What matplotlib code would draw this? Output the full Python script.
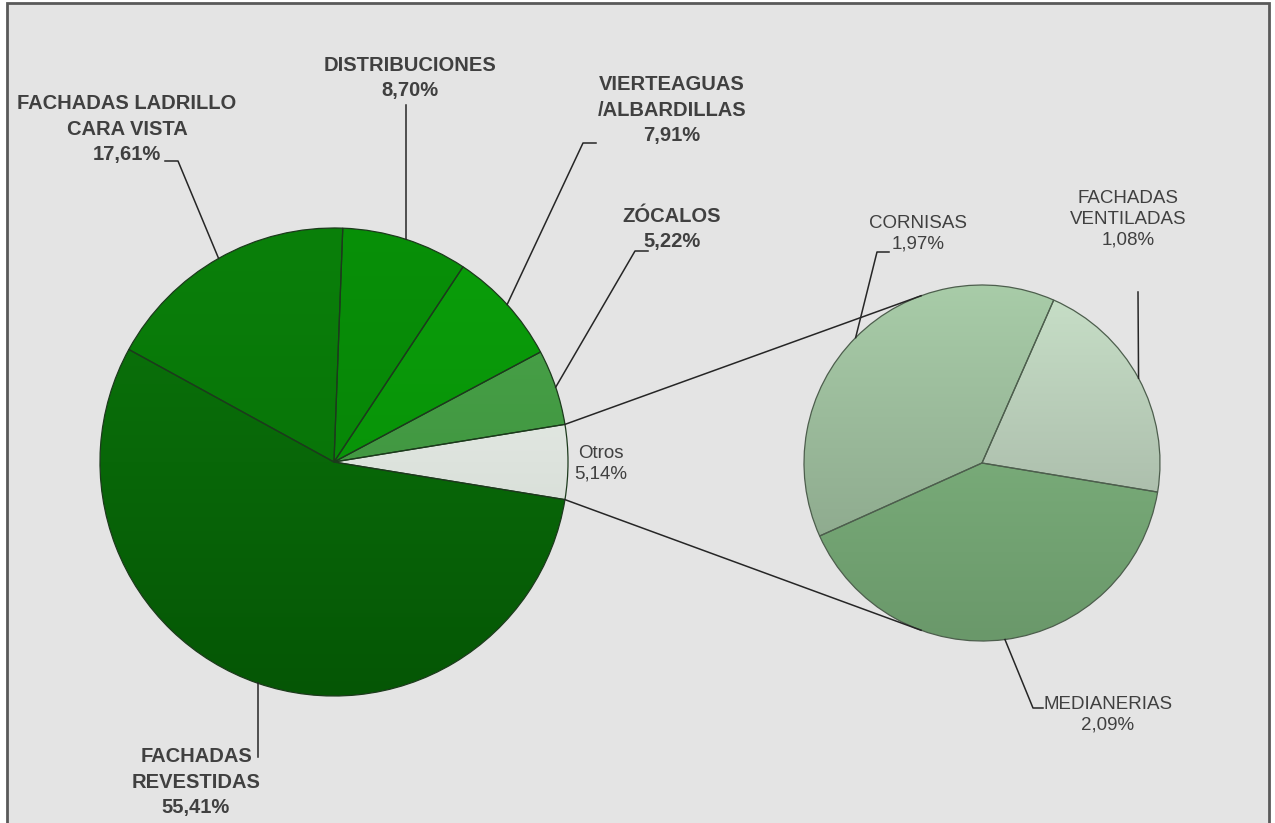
import numpy as np
import matplotlib.pyplot as plt
from matplotlib.colors import to_rgb
from matplotlib.patches import Rectangle

plt.rcParams['font.family'] = ['Liberation Sans Narrow', 'Liberation Sans', 'DejaVu Sans']

W, H = 1275, 823

# main pie, counter-clockwise starting with "Otros" centred on the right
main_labels = ['Otros', 'ZÓCALOS', 'VIERTEAGUAS\n/ALBARDILLAS', 'DISTRIBUCIONES',
               'FACHADAS LADRILLO\nCARA VISTA', 'FACHADAS\nREVESTIDAS']
main_values = [5.14, 5.22, 7.91, 8.70, 17.61, 55.41]
main_bold = [False, True, True, True, True, True]
main_top = ['#f2f6f2', '#4aa64a', '#0a9e0a', '#089008', '#0a800a', '#0b780b']
main_bottom = ['#c8d0c8', '#3a8a3a', '#078a07', '#067c06', '#066a06', '#055605']

# breakdown of "Otros"
sub_labels = ['FACHADAS\nVENTILADAS', 'CORNISAS', 'MEDIANERIAS']
sub_values = [1.08, 1.97, 2.09]
sub_top = ['#c8e0c8', '#a8cca8', '#86bc86']
sub_bottom = ['#9aa89a', '#859e85', '#6a986a']


def py(y):
    return H - y


def pct(v):
    return '{:.2f}%'.format(v).replace('.', ',')


def gradient_fill(ax, wedge, top, bottom, cx, cy, r):
    t = np.array(to_rgb(top))
    b = np.array(to_rgb(bottom))
    k = np.linspace(0, 1, 256)[:, None]
    img = (t * (1 - k) + b * k)[:, None, :]
    im = ax.imshow(img, extent=(cx - r, cx + r, cy - r, cy + r), origin='upper',
                   interpolation='bicubic', zorder=1, aspect='auto')
    im.set_clip_path(wedge)


def edge_point(cx, cy, r, deg):
    a = np.radians(deg)
    return cx + r * np.cos(a), cy + r * np.sin(a)


fig = plt.figure(figsize=(W / 100, H / 100), dpi=100)
fig.patch.set_facecolor('white')
ax = fig.add_axes([0, 0, 1, 1])
ax.axis('off')

ax.add_patch(Rectangle((7, py(830)), 1262, 827, facecolor='#e4e4e4',
                       edgecolor='#595959', linewidth=2, zorder=0))

# main pie
mcx, mcy, mr = 334, py(462), 234
main_start = -main_values[0] / sum(main_values) * 180
wedges, _ = ax.pie(main_values, center=(mcx, mcy), radius=mr, startangle=main_start,
                   counterclock=True,
                   wedgeprops=dict(edgecolor='#1c3a1c', linewidth=0.9, zorder=2))
for w, t, b in zip(wedges, main_top, main_bottom):
    w.set_facecolor('none')
    gradient_fill(ax, w, t, b, mcx, mcy, mr)
main_wedges = wedges

# second pie
scx, scy, sr = 982, py(463), 178
sub_start = -9.4
wedges, _ = ax.pie(sub_values, center=(scx, scy), radius=sr, startangle=sub_start,
                   counterclock=True,
                   wedgeprops=dict(edgecolor='#4d5e4d', linewidth=0.9, zorder=2))
for w, t, b in zip(wedges, sub_top, sub_bottom):
    w.set_facecolor('none')
    gradient_fill(ax, w, t, b, scx, scy, sr)
sub_wedges = wedges

# lines linking "Otros" to the second pie
w0 = main_wedges[0]
for a_main, a_sub in [(w0.theta2, 110), (w0.theta1, -110)]:
    x0, y0 = edge_point(mcx, mcy, mr, a_main)
    x1, y1 = edge_point(scx, scy, sr, a_sub)
    ax.plot([x0, x1], [y0, y1], color='#262626', lw=1.1, zorder=3)

# label positions (pixels from top-left) and leader elbows
main_text_pos = [(601, 464), (672, 229), (672, 110), (410, 78), (127, 129), (196, 782)]
main_leaders = [None, [(635, 251), (648, 251)], [(583, 143), (596, 143)],
                [(None, 105)], [(178, 161), (165, 161)], [(None, 757)]]
sub_text_pos = [(1128, 219), (918, 234), (1108, 715)]
sub_leaders = [[(1138, 292)], [(877, 252), (889, 252)], [(1033, 708), (1043, 708)]]


def draw_labels(wedges, labels, values, bolds, pos, leaders, cx, cy, r):
    for w, lab, v, bold, (tx, ty), ld in zip(wedges, labels, values, bolds, pos, leaders):
        ax.text(tx, py(ty), lab + '\n' + pct(v), ha='center', va='center',
                fontsize=14.5 if bold else 13.5,
                fontweight='bold' if bold else 'normal',
                color='#404040', linespacing=1.42 if bold else 1.3, zorder=4)
        if ld is None:
            continue
        mid = (w.theta1 + w.theta2) / 2
        ex, ey = edge_point(cx, cy, r, mid)
        xs, ys = [ex], [ey]
        for lx, ly in ld:
            xs.append(ex if lx is None else lx)
            ys.append(py(ly))
        ax.plot(xs, ys, color='#262626', lw=1.1, zorder=3)


draw_labels(main_wedges, main_labels, main_values, main_bold, main_text_pos,
            main_leaders, mcx, mcy, mr)
draw_labels(sub_wedges, sub_labels, sub_values, [False] * 3, sub_text_pos,
            sub_leaders, scx, scy, sr)

ax.set_xlim(0, W)
ax.set_ylim(0, H)
ax.set_aspect('auto')

fig.savefig('out.png', dpi=100, facecolor=fig.get_facecolor())
